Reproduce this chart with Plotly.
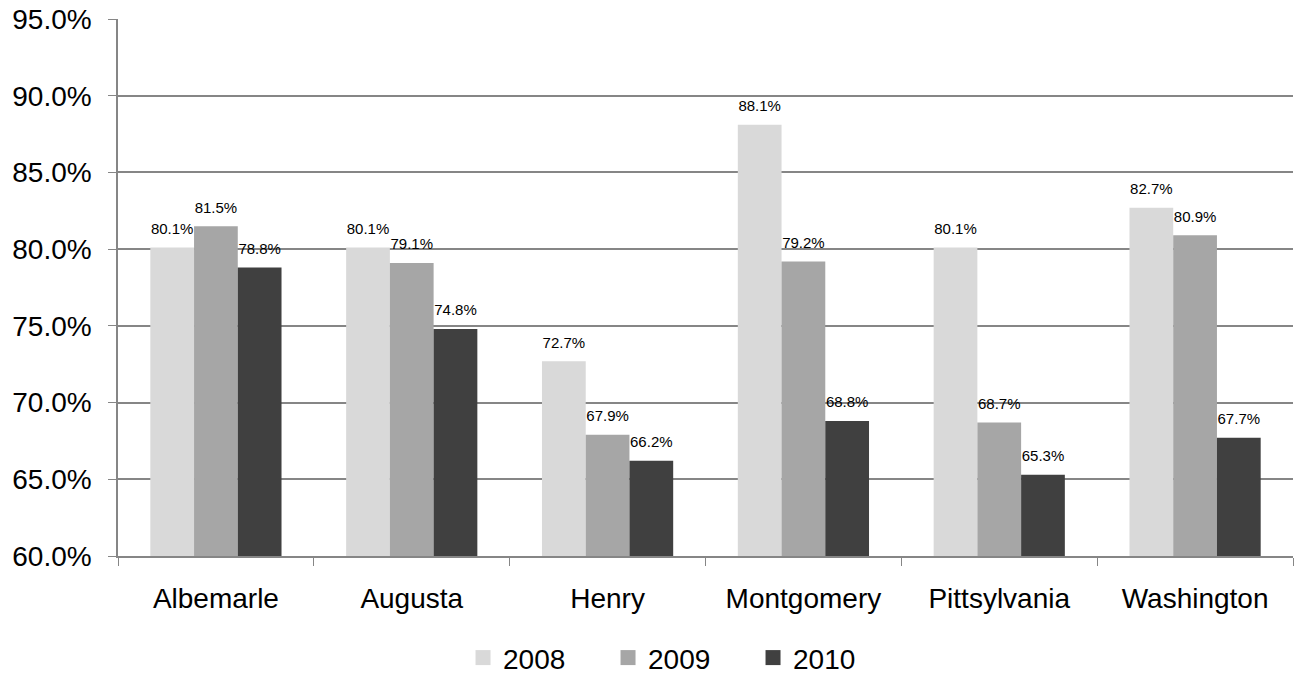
import plotly.graph_objects as go

counties = ["Albemarle", "Augusta", "Henry", "Montgomery", "Pittsylvania", "Washington"]
years = ["2008", "2009", "2010"]
rate_2008 = [80.1, 80.1, 72.7, 88.1, 80.1, 82.7]
rate_2009 = [81.5, 79.1, 67.9, 79.2, 68.7, 80.9]
rate_2010 = [78.8, 74.8, 66.2, 68.8, 65.3, 67.7]
y_ticks = [60, 65, 70, 75, 80, 85, 90, 95]

colors = ["#d9d9d9", "#a6a6a6", "#404040"]
series = [rate_2008, rate_2009, rate_2010]
FONT = "Liberation Sans, Arial"
GAP = 0.33

fig = go.Figure()
# bars
for year, vals, col in zip(years, series, colors):
    fig.add_trace(go.Bar(
        x=counties, y=vals, name=year, showlegend=False,
        offsetgroup=year,
        marker=dict(color=col, line=dict(width=0)),
    ))
# value labels, grouped the same way as the bars
for year, vals in zip(years, series):
    fig.add_trace(go.Scatter(
        x=counties, y=vals, mode="markers+text", showlegend=False,
        offsetgroup=year,
        marker=dict(size=14, opacity=0), hoverinfo="skip",
        text=[f"{v:.1f}%" for v in vals], textposition="top center",
        textfont=dict(family=FONT, size=15, color="#000000"),
        cliponaxis=False,
    ))
# legend swatches
for year, col in zip(years, colors):
    fig.add_trace(go.Scatter(
        x=[None], y=[None], mode="markers", name=year,
        offsetgroup=year,
        marker=dict(symbol="square", size=15, color=col),
    ))

fig.update_layout(
    barmode="group", bargap=GAP, bargroupgap=0,
    scattermode="group", scattergap=GAP,
    width=1295, height=674,
    margin=dict(l=118, r=2, t=19, b=118, autoexpand=False),
    plot_bgcolor="white", paper_bgcolor="white",
    font=dict(family=FONT, color="#000000"),
    legend=dict(
        orientation="h", x=0.5255, xanchor="center", xref="container",
        y=0.061, yanchor="top", yref="container",
        font=dict(size=28), entrywidth=100, itemwidth=30,
    ),
    showlegend=True,
)
fig.update_yaxes(
    range=[60, 95], tickvals=y_ticks,
    ticktext=[f"{t:.1f}%" for t in y_ticks],
    tickfont=dict(size=28), ticks="outside", ticklen=8, tickcolor="#868686",
    showgrid=True, gridcolor="#868686", gridwidth=1.5,
    showline=True, linecolor="#868686", linewidth=1.5,
    zeroline=False, ticklabelstandoff=11,
)
fig.update_xaxes(
    tickfont=dict(size=28), ticks="outside", ticklen=8, tickcolor="#868686",
    tickson="boundaries", showline=True, linecolor="#868686", linewidth=1.5,
    ticklabelstandoff=17,
)

fig.write_html("out.html")
